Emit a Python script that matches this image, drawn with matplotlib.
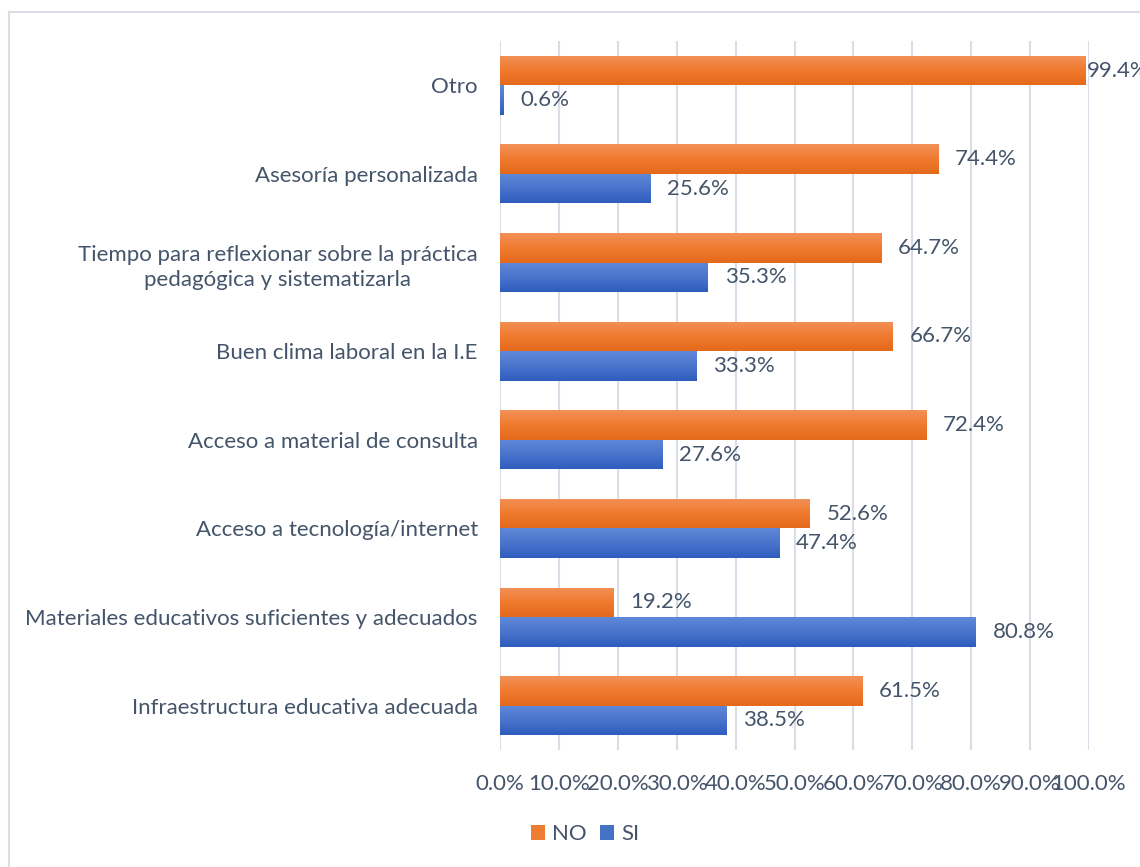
import matplotlib
matplotlib.use('Agg')
import matplotlib.pyplot as plt
import numpy as np
from matplotlib.patches import Rectangle, Patch
from matplotlib.colors import LinearSegmentedColormap

## categories, top to bottom as in the chart
categories = ['Otro',
              'Asesoría personalizada',
              'Tiempo para reflexionar sobre la práctica\npedagógica y sistematizarla',
              'Buen clima laboral en la I.E',
              'Acceso a material de consulta',
              'Acceso a tecnología/internet',
              'Materiales educativos suficientes y adecuados',
              'Infraestructura educativa adecuada']
no_vals = [99.4, 74.4, 64.7, 66.7, 72.4, 52.6, 19.2, 61.5]
si_vals = [0.6, 25.6, 35.3, 33.3, 27.6, 47.4, 80.8, 38.5]
x_ticks = [0, 10, 20, 30, 40, 50, 60, 70, 80, 90, 100]

text_col = '#44546A'
grid_col = '#D9DEE6'
fs = 16

plt.rcParams['font.family'] = ['Lato', 'DejaVu Sans']

fig = plt.figure(figsize=(11.4, 8.67), dpi=100)
ax = fig.add_axes([500/1140, 1 - 750/867, 589/1140, 709/867])

## outer frame of the chart area
fig.patches.append(Rectangle((9/1140, -0.1), 1.2, 1 - 12/867 + 0.1, transform=fig.transFigure,
                             fill=False, edgecolor='#D9DEE4', linewidth=1.5))

y = np.arange(len(categories))
h = 0.333

bars_no = ax.barh(y - h/2, no_vals, height=h, color='#ED7D31', zorder=2)
bars_si = ax.barh(y + h/2, si_vals, height=h, color='#4472C4', zorder=2)

## vertical gradient on each bar (light on top, darker at bottom)
cmap_no = LinearSegmentedColormap.from_list('no', ['#F29158', '#F07A2E', '#E4691B'])
cmap_si = LinearSegmentedColormap.from_list('si', ['#6088D8', '#4A74CC', '#2E5DBE'])
grad = np.linspace(0, 1, 64).reshape(-1, 1)
for bars, cm in [(bars_no, cmap_no), (bars_si, cmap_si)]:
    for b in bars:
        x0, y0 = b.get_x(), b.get_y()
        w, hh = b.get_width(), b.get_height()
        im = ax.imshow(grad, cmap=cm, aspect='auto', interpolation='bicubic',
                       extent=[x0, x0 + w, y0 + hh, y0], zorder=3)
        im.set_clip_path(b)

## data labels
for bars, vals in [(bars_no, no_vals), (bars_si, si_vals)]:
    for b, v in zip(bars, vals):
        off = 1 if v > 95 else 12
        ax.annotate('%.1f%%' % v, (v, b.get_y() + b.get_height()/2),
                    xytext=(off, 0), textcoords='offset points',
                    va='center', ha='left', fontsize=fs, color=text_col,
                    annotation_clip=False)

ax.set_xlim(0, 100)
ax.set_ylim(len(categories) - 0.5, -0.5)
ax.set_xticks(x_ticks)
ax.set_xticklabels(['%.1f%%' % t for t in x_ticks])
ax.set_yticks(y)
ax.set_yticklabels(categories, multialignment='center', linespacing=1.35)
ax.tick_params(axis='y', length=0, pad=16, labelsize=fs, labelcolor=text_col)
ax.tick_params(axis='x', length=0, pad=17, labelsize=fs, labelcolor=text_col)

ax.grid(axis='x', color=grid_col, linewidth=1.5, zorder=0)
ax.set_axisbelow(True)
for s in ax.spines.values():
    s.set_visible(False)

handles = [Patch(facecolor='#ED7D31', label='NO'), Patch(facecolor='#4472C4', label='SI')]
leg = fig.legend(handles=handles, loc='center', bbox_to_anchor=(585/1140, 1 - 834/867),
                 ncol=2, frameon=False, fontsize=fs, handlelength=0.65, handleheight=0.65,
                 handletextpad=0.3, columnspacing=0.6)
for t in leg.get_texts():
    t.set_color(text_col)

fig.savefig('out.png', dpi=100)
